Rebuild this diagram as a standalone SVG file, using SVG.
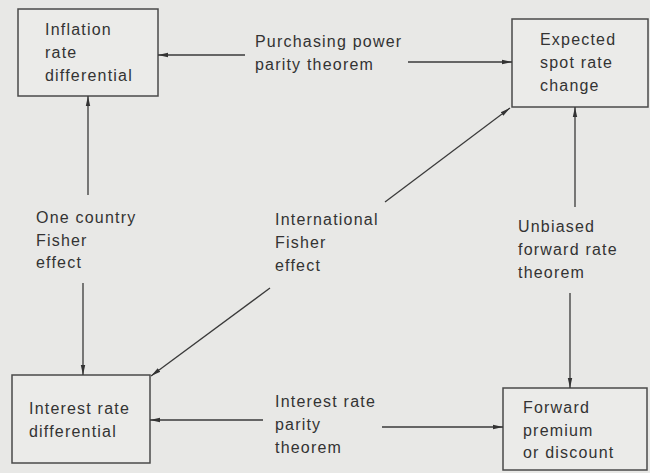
<svg xmlns="http://www.w3.org/2000/svg" width="650" height="473" viewBox="0 0 650 473">
  <defs>
    <marker id="arrow" viewBox="0 0 10 6" refX="10" refY="3" markerWidth="10" markerHeight="6" markerUnits="userSpaceOnUse" orient="auto">
      <path d="M0,0.8 L10,3 L0,5.2 Z" fill="#333"/>
    </marker>
    <style>
      .box { fill: #ebebe9; stroke: #4a4a4a; stroke-width: 1.5; }
      .lbl { font-family: "Liberation Sans", Arial, sans-serif; font-size: 16px; letter-spacing: 1.2px; fill: #333; }
      .conn { stroke: #3a3a3a; stroke-width: 1.3; fill: none; marker-end: url(#arrow); }
    </style>
  </defs>

  <rect width="650" height="473" fill="#e8e8e6"/>

  <g id="inflation">
    <rect class="box" x="18" y="9" width="140" height="87"/>
    <text class="lbl" x="45" y="35">Inflation</text>
    <text class="lbl" x="45" y="58">rate</text>
    <text class="lbl" x="45" y="81">differential</text>
  </g>

  <g id="spot">
    <rect class="box" x="512" y="19" width="136" height="88"/>
    <text class="lbl" x="540" y="45">Expected</text>
    <text class="lbl" x="540" y="68">spot rate</text>
    <text class="lbl" x="540" y="91">change</text>
  </g>

  <g id="interest">
    <rect class="box" x="12" y="375" width="138" height="88"/>
    <text class="lbl" x="29" y="414">Interest rate</text>
    <text class="lbl" x="29" y="437">differential</text>
  </g>

  <g id="forward">
    <rect class="box" x="503" y="388" width="144" height="82"/>
    <text class="lbl" x="523" y="413">Forward</text>
    <text class="lbl" x="523" y="436">premium</text>
    <text class="lbl" x="523" y="458">or discount</text>
  </g>

  <g id="connectors">
    <line class="conn" x1="245" y1="55" x2="158" y2="55"/>
    <line class="conn" x1="408" y1="62" x2="512" y2="62"/>
    <line class="conn" x1="88" y1="195" x2="88" y2="96"/>
    <line class="conn" x1="83" y1="283" x2="83" y2="375"/>
    <line class="conn" x1="385" y1="202" x2="510" y2="108"/>
    <line class="conn" x1="270" y1="288" x2="151" y2="376"/>
    <line class="conn" x1="575" y1="207" x2="575" y2="107"/>
    <line class="conn" x1="570" y1="293" x2="570" y2="388"/>
    <line class="conn" x1="263" y1="420" x2="150" y2="420"/>
    <line class="conn" x1="382" y1="427" x2="503" y2="427"/>
  </g>

  <g id="labels">
    <text class="lbl" x="255" y="47">Purchasing power</text>
    <text class="lbl" x="255" y="70">parity theorem</text>
    <text class="lbl" x="36" y="223">One country</text>
    <text class="lbl" x="36" y="246">Fisher</text>
    <text class="lbl" x="36" y="268">effect</text>
    <text class="lbl" x="275" y="225">International</text>
    <text class="lbl" x="275" y="248">Fisher</text>
    <text class="lbl" x="275" y="271">effect</text>
    <text class="lbl" x="518" y="232">Unbiased</text>
    <text class="lbl" x="518" y="255">forward rate</text>
    <text class="lbl" x="518" y="278">theorem</text>
    <text class="lbl" x="275" y="407">Interest rate</text>
    <text class="lbl" x="275" y="430">parity</text>
    <text class="lbl" x="275" y="453">theorem</text>
  </g>
</svg>
